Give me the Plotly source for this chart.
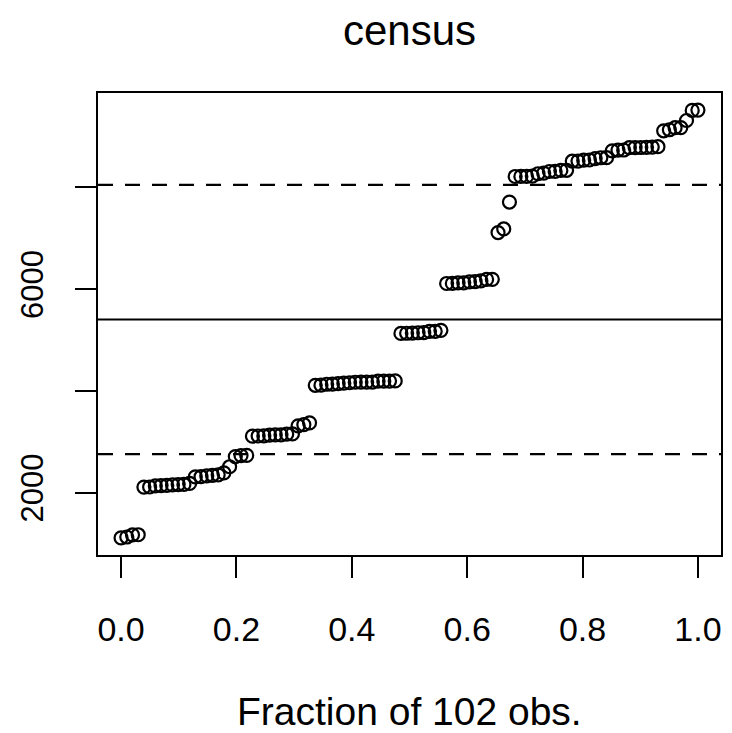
import numpy as np
import plotly.graph_objects as go

# Census occupation codes (102 observations), sorted
census = [
    1113, 1130, 1171, 1175,
    2111, 2113, 2133, 2141, 2143, 2153, 2161, 2163, 2183,
    2311, 2315, 2331, 2343, 2351, 2391,
    2511,
    2711, 2731, 2733,
    3111, 3115, 3117, 3131, 3135, 3137, 3151, 3156,
    3314, 3337, 3373,
    4111, 4113, 4131, 4133, 4143, 4153, 4161, 4171, 4172, 4173, 4175, 4191, 4192, 4193, 4197,
    5130, 5133, 5137, 5143, 5145, 5171, 5172, 5191,
    6111, 6112, 6121, 6123, 6141, 6147, 6162, 6191, 6193,
    7112, 7182,
    7711,
    8213, 8215, 8215, 8221, 8267, 8278, 8311, 8313, 8333, 8335,
    8513, 8515, 8534, 8537, 8563, 8581, 8582,
    8715, 8731, 8733, 8780, 8781, 8782, 8785, 8791, 8798,
    9111, 9131, 9171, 9173,
    9313,
    9511, 9517,
]
x_ticks = [0.0, 0.2, 0.4, 0.6, 0.8, 1.0]
x_ticktext = ["0.0", "0.2", "0.4", "0.6", "0.8", "1.0"]
y_ticks = [2000, 4000, 6000, 8000]
y_ticktext = ["2000", "", "6000", ""]

vals = np.sort(np.array(census, dtype=float))
n = len(vals)
frac = np.arange(n) / (n - 1)
mean = vals.mean()
sd = vals.std(ddof=1)

span_y = vals.max() - vals.min()
yr = [vals.min() - 0.04 * span_y, vals.max() + 0.04 * span_y]
xr = [-0.04, 1.04]

FONT = "Liberation Sans, Arial, sans-serif"

fig = go.Figure()
fig.add_trace(go.Scatter(
    x=frac, y=vals, mode="markers",
    marker=dict(symbol="circle-open", size=13, color="black", line=dict(width=2.2, color="black")),
    showlegend=False, hoverinfo="skip",
))

fig.add_hline(y=mean, line=dict(color="black", width=2))
fig.add_hline(y=mean - sd, line=dict(color="black", width=2.2, dash="15px,12px"))
fig.add_hline(y=mean + sd, line=dict(color="black", width=2.2, dash="15px,12px"))

axis_common = dict(
    showgrid=False, zeroline=False, showline=True, linecolor="black", linewidth=2,
    mirror=True, ticks="outside", ticklen=21, tickwidth=2, tickcolor="black",
    automargin=False,
)
fig.update_xaxes(range=xr, tickvals=x_ticks, ticktext=x_ticktext, ticklabelstandoff=22,
                 tickfont=dict(family=FONT, size=34, color="black"), **axis_common)
fig.update_yaxes(range=yr, tickvals=y_ticks, ticktext=y_ticktext, tickangle=-90, ticklabelstandoff=20,
                 tickfont=dict(family=FONT, size=31, color="black"), **axis_common)

W, H = 732, 733
fig.update_layout(
    width=W, height=H,
    margin=dict(l=98, r=11, t=93, b=178),
    paper_bgcolor="white", plot_bgcolor="white",
    title=dict(text="census", xref="paper", x=0.5, xanchor="center", y=1 - 30 / H, yanchor="middle",
               font=dict(family=FONT, size=42, color="black")),
    annotations=[dict(text="Fraction of 102 obs.", xref="paper", yref="paper",
                      x=0.5, y=-156 / 462, xanchor="center", yanchor="middle",
                      showarrow=False, font=dict(family=FONT, size=39, color="black"))],
)

fig.write_html("out.html", config={"displayModeBar": False},
               post_script="document.body.style.margin='0';")
